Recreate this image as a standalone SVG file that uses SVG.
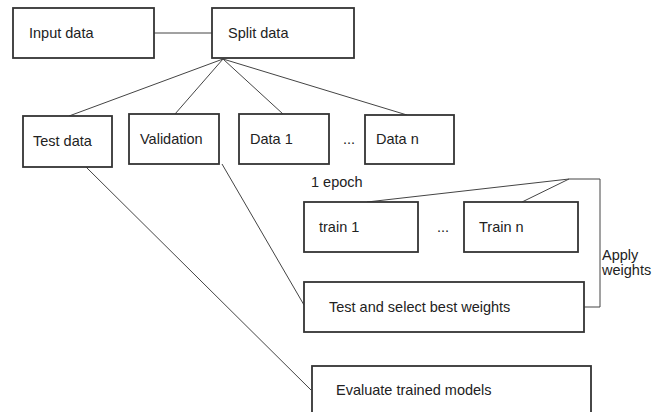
<svg xmlns="http://www.w3.org/2000/svg" width="665" height="412" viewBox="0 0 665 412">
<style>
.box{fill:#fff;stroke:#333;stroke-width:1.8}
.ln{fill:none;stroke:#444;stroke-width:1}
text{font-family:"Liberation Sans",Arial,sans-serif;font-size:14.5px;fill:#222}
</style>
<rect width="665" height="412" fill="#fff"/>
<g id="connectors">
<line class="ln" x1="154" y1="33" x2="212" y2="33"/>
<line class="ln" x1="223" y1="59" x2="69" y2="116"/>
<line class="ln" x1="223" y1="59" x2="175" y2="114"/>
<line class="ln" x1="223" y1="59" x2="283" y2="114"/>
<line class="ln" x1="223" y1="59" x2="407" y2="115"/>
<line class="ln" x1="86" y1="167" x2="311" y2="390"/>
<line class="ln" x1="222" y1="164" x2="304" y2="305"/>
<line class="ln" x1="569" y1="179" x2="367" y2="202"/>
<line class="ln" x1="569" y1="179" x2="522" y2="202"/>
<polyline class="ln" points="569,179 600,179 600,307 584,307"/>
</g>
<g id="input"><rect class="box" x="13" y="8" width="141" height="50"/><text x="29" y="38">Input data</text></g>
<g id="split"><rect class="box" x="212" y="8" width="142" height="50"/><text x="228" y="38">Split data</text></g>
<g id="testdata"><rect class="box" x="23" y="116" width="89" height="51"/><text x="33" y="146">Test data</text></g>
<g id="validation"><rect class="box" x="129" y="114" width="90" height="50"/><text x="140" y="144">Validation</text></g>
<g id="data1"><rect class="box" x="239" y="114" width="90" height="50"/><text x="250" y="144">Data 1</text></g>
<text x="343" y="144">...</text>
<g id="datan"><rect class="box" x="365" y="115" width="89" height="49"/><text x="376" y="144">Data n</text></g>
<text x="311" y="187">1 epoch</text>
<g id="train1"><rect class="box" x="304" y="202" width="114" height="50"/><text x="319" y="232">train 1</text></g>
<text x="437" y="232">...</text>
<g id="trainn"><rect class="box" x="464" y="202" width="114" height="50"/><text x="479" y="232">Train n</text></g>
<text x="602" y="260">Apply</text>
<text x="602" y="275">weights</text>
<g id="testselect"><rect class="box" x="304" y="282" width="280" height="50"/><text x="329" y="312">Test and select best weights</text></g>
<g id="evaluate"><rect class="box" x="312" y="366" width="279" height="60"/><text x="336" y="395">Evaluate trained models</text></g>
</svg>
